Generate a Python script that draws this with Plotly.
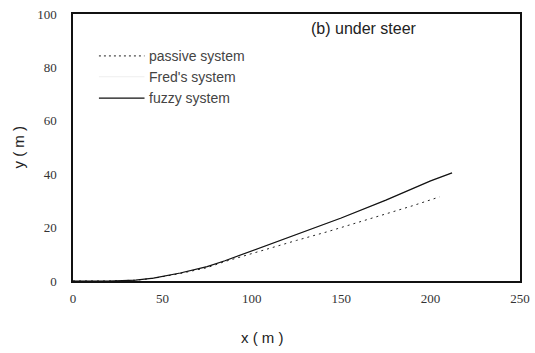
import plotly.graph_objects as go

# Data
passive_x = [0, 20, 35, 45, 60, 75, 85, 105, 125, 142, 160, 175, 190, 205]
passive_y = [0, 0, 0.3, 1.0, 2.8, 5.0, 7.3, 11.3, 15.2, 18.4, 22.0, 25.0, 28.2, 31.5]
fred_x = [0, 20, 35, 45, 60, 75, 85, 105, 125, 150, 175, 200, 212]
fred_y = [0, 0, 0.3, 1.1, 3.0, 5.4, 7.6, 12.5, 17.5, 23.6, 30.3, 37.5, 40.5]
fuzzy_x = [0, 20, 35, 45, 60, 75, 85, 105, 125, 150, 175, 200, 212]
fuzzy_y = [0, 0, 0.3, 1.1, 3.0, 5.4, 7.6, 12.5, 17.5, 23.6, 30.3, 37.5, 40.5]

x_ticks = [0, 50, 100, 150, 200, 250]
y_ticks = [0, 20, 40, 60, 80, 100]
legend_names = ["passive system", "Fred's system", "fuzzy system"]

fig = go.Figure()
fig.add_trace(go.Scatter(x=fred_x, y=fred_y, mode="lines",
                         line=dict(color="#e6e6e6", width=1), showlegend=False))
fig.add_trace(go.Scatter(x=passive_x, y=passive_y, mode="lines",
                         line=dict(color="#222", width=1, dash="2px,4px"), showlegend=False))
fig.add_trace(go.Scatter(x=fuzzy_x, y=fuzzy_y, mode="lines",
                         line=dict(color="#111", width=1.2), showlegend=False))

# manual legend
leg_y = [84.3, 76.5, 68.5]
leg_styles = [dict(color="#222", width=1, dash="2px,3px"),
              dict(color="#eeeeee", width=1),
              dict(color="#111", width=1.2)]
for name, ly, st in zip(legend_names, leg_y, leg_styles):
    fig.add_shape(type="line", x0=14.5, x1=40, y0=ly, y1=ly, xref="x", yref="y", line=st)
    fig.add_annotation(x=41.5, y=ly, xref="x", yref="y", text=name, showarrow=False,
                       xanchor="left", yanchor="middle",
                       font=dict(family="Liberation Sans", size=14, color="#444"))

fig.add_annotation(x=0.651, y=94.5, xref="paper", yref="y", text="(b) under steer",
                   showarrow=False, xanchor="center", yanchor="middle",
                   font=dict(family="Liberation Sans", size=16, color="#222"))

# axis titles
fig.add_annotation(x=0.423, y=-0.21, xref="paper", yref="paper", text="x ( m )",
                   showarrow=False, xanchor="center", yanchor="middle",
                   font=dict(family="Liberation Sans", size=15, color="#222"))
fig.add_annotation(x=-0.123, y=0.5, xref="paper", yref="paper", text="y ( m )",
                   showarrow=False, textangle=-90, xanchor="center", yanchor="middle",
                   font=dict(family="Liberation Sans", size=15, color="#222"))

fig.update_xaxes(range=[0, 250], tickvals=x_ticks, ticks="", showgrid=False, zeroline=False,
                 showline=True, linecolor="#111", linewidth=1.5, mirror=True,
                 ticklabelstandoff=5, automargin=False,
                 tickfont=dict(family="Liberation Serif", size=13, color="#333"))
fig.update_yaxes(range=[0, 100], tickvals=y_ticks, ticks="", showgrid=False, zeroline=False,
                 showline=True, linecolor="#111", linewidth=1.5, mirror=True,
                 ticklabelstandoff=12, automargin=False,
                 tickfont=dict(family="Liberation Serif", size=13, color="#333"))

fig.update_layout(width=535, height=353, margin=dict(l=73, r=15, t=14, b=72),
                  plot_bgcolor="white", paper_bgcolor="white")
fig.write_html("out.html")
